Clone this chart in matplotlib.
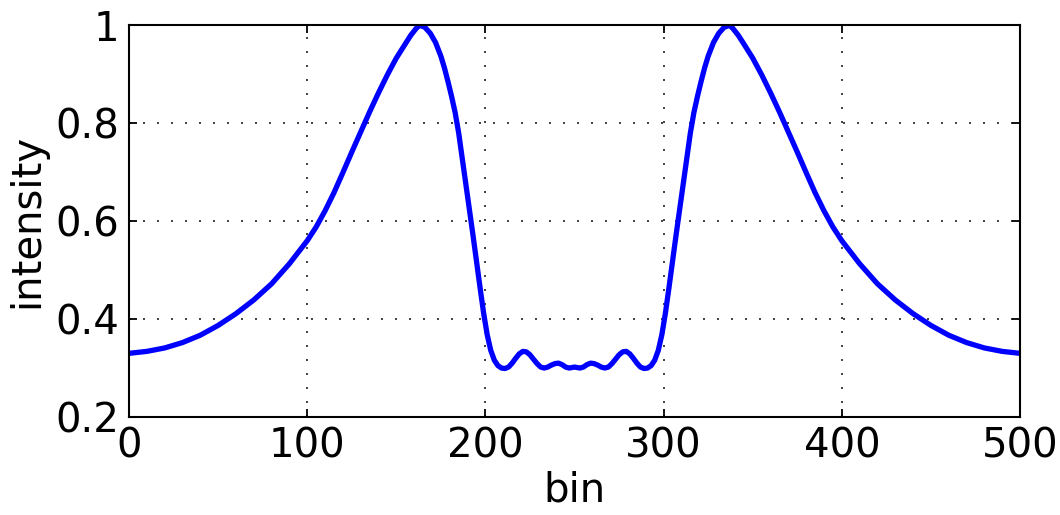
import numpy as np
import matplotlib.pyplot as plt

# values
bins = [0, 10, 20, 30, 40, 50, 60, 70, 80, 90, 100, 105, 110, 115, 120, 125,
        130, 135, 140, 145, 150, 155, 158, 161, 163, 166, 169, 172, 175, 177,
        179, 181, 183, 185, 187, 189, 191, 193, 195, 197, 199, 201, 203, 205,
        207, 209, 211, 213, 215, 217, 219, 221, 223, 225, 227, 229, 231, 233,
        235, 237, 239, 241, 243, 245, 247, 250, 253, 255, 257, 259, 261, 263,
        265, 267, 269, 271, 273, 275, 277, 279, 281, 283, 285, 287, 289, 291,
        293, 295, 297, 299, 301, 303, 305, 307, 309, 311, 313, 315, 317, 319,
        321, 323, 325, 328, 331, 334, 337, 339, 342, 345, 350, 355, 360, 365,
        370, 375, 380, 385, 390, 395, 400, 410, 420, 430, 440, 450, 460, 470,
        480, 490, 500]
intensity = [0.330, 0.334, 0.341, 0.352, 0.367, 0.387, 0.411, 0.439, 0.472,
             0.513, 0.560, 0.588, 0.621, 0.658, 0.699, 0.741, 0.782, 0.823,
             0.862, 0.899, 0.933, 0.962, 0.979, 0.993, 1.000, 0.996, 0.984,
             0.965, 0.937, 0.913, 0.885, 0.855, 0.822, 0.780, 0.728, 0.676,
             0.624, 0.572, 0.518, 0.464, 0.412, 0.368, 0.336, 0.316, 0.305,
             0.300, 0.299, 0.302, 0.310, 0.320, 0.329, 0.334, 0.333, 0.327,
             0.318, 0.309, 0.302, 0.300, 0.302, 0.306, 0.309, 0.310, 0.307,
             0.302, 0.300, 0.302, 0.300, 0.302, 0.307, 0.310, 0.309, 0.306,
             0.302, 0.300, 0.302, 0.309, 0.318, 0.327, 0.333, 0.334, 0.329,
             0.320, 0.310, 0.302, 0.299, 0.300, 0.305, 0.316, 0.336, 0.368,
             0.412, 0.464, 0.518, 0.572, 0.624, 0.676, 0.728, 0.780, 0.822,
             0.855, 0.885, 0.913, 0.937, 0.965, 0.984, 0.996, 1.000, 0.993,
             0.979, 0.962, 0.933, 0.899, 0.862, 0.823, 0.782, 0.741, 0.699,
             0.658, 0.621, 0.588, 0.560, 0.513, 0.472, 0.439, 0.411, 0.387,
             0.367, 0.352, 0.341, 0.334, 0.330]
xticks = [0, 100, 200, 300, 400, 500]
yticks = [0.2, 0.4, 0.6, 0.8, 1.0]
ytick_labels = ["0.2", "0.4", "0.6", "0.8", "1"]

plt.rcParams['font.family'] = ['DejaVu Sans']
fig = plt.figure(figsize=(10.6, 5.15), dpi=100)
ax = fig.add_axes([0.1217, 0.1903, 0.8406, 0.7606])

ax.plot(bins, intensity, color='#0000ff', lw=3.8, solid_joinstyle='round',
        solid_capstyle='round')

ax.set_xlim(0, 500)
ax.set_ylim(0.2, 1.0)
ax.set_xticks(xticks)
ax.set_yticks(yticks)
ax.set_yticklabels(ytick_labels)
ax.tick_params(direction='in', length=6, width=1.3, top=True, right=True,
               labelsize=29, pad=7, color='black')
ax.grid(True, color='#222222', linestyle=(0, (1.2, 7.2)), lw=1.2)
for s in ax.spines.values():
    s.set_linewidth(1.5)
    s.set_color('black')

ax.set_xlabel("bin", fontsize=29, labelpad=3)
ax.set_ylabel("intensity", fontsize=29, labelpad=6)

fig.savefig("out.png", dpi=100)
